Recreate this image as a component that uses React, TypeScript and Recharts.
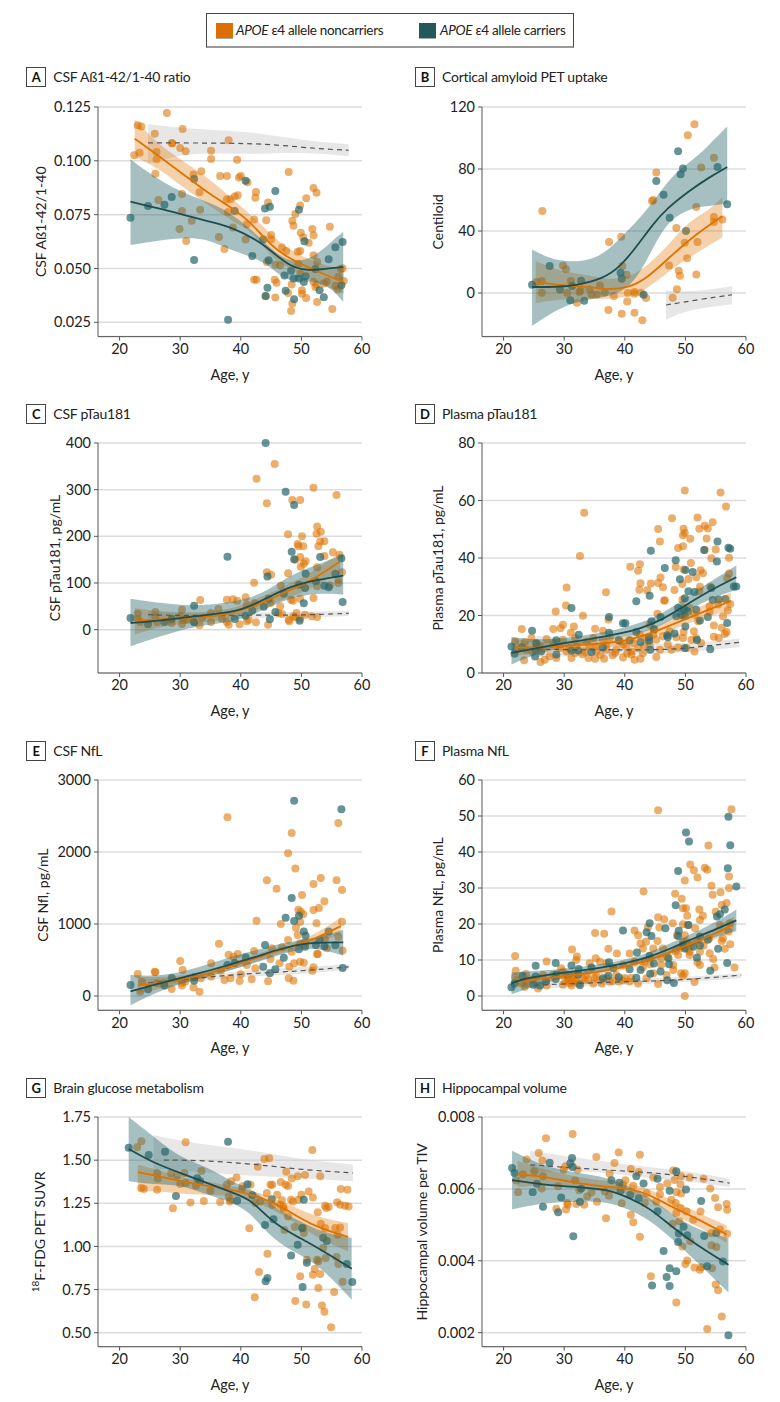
import React from 'react'
import { ComposedChart, Area, Line, Scatter, XAxis, YAxis, CartesianGrid, Label } from 'recharts'

const FONT = 'Lato, sans-serif'
const ORANGE = '#DE7300'
const TEAL = '#2A6A6D'
const TEAL_LINE = '#1F4E50'
const X_TICKS = [20, 30, 40, 50, 60]
const X_DOMAIN: [number, number] = [16.44, 60]

// A: CSF Ab ratio
const aOrangePts = [[27.8,.1222],[23,.1165],[23.6,.116],[25.8,.1126],[30.4,.1148],[38,.1095],[28.6,.1083],[28.7,.108],[30,.106],[30.9,.1044],[35.1,.1047],[22.4,.1026],[23.3,.1038],[26.1,.1041],[26.1,.1007],[35.1,.1008],[39.4,.1005],[47.9,.0948],[25.9,.094],[33.5,.0951],[32.2,.0937],[36.6,.093],[37.7,.093],[40,.093],[39.7,.0922],[41.1,.09],[42.5,.0855],[42.4,.0829],[33.2,.0854],[30.3,.0846],[26.4,.0818],[52,.0874],[52.5,.0852],[50.8,.0826],[39.5,.084],[39,.0834],[37.7,.0821],[38.3,.0821],[44.5,.0806],[49.8,.0792],[33.3,.0773],[30.3,.0767],[49,.0753],[37.9,.0762],[48.5,.0722],[44.2,.0724],[48.7,.0699],[42.2,.0727],[41,.0705],[31.9,.0722],[54.7,.0694],[29.9,.0683],[51.8,.0683],[49.9,.0666],[52,.0654],[45,.0656],[50.3,.0645],[36.4,.0646],[38.7,.069],[31,.0628],[40.8,.0634],[51.2,.062],[45,.0635],[37.3,.0591],[46.8,.0597],[47.5,.0581],[49.4,.0578],[49.8,.0581],[52,.0561],[44.3,.053],[45.7,.0518],[46.5,.0515],[52.6,.053],[49.5,.0522],[42.2,.0448],[42.6,.0448],[45.6,.0448],[45.9,.0434],[48.4,.0425],[47.8,.0386],[50.1,.0383],[45.7,.0365],[44.1,.0371],[50.8,.0363],[48.5,.0337],[48.3,.0303],[52.6,.0344],[55.1,.0312],[52,.0437],[52.5,.0426],[53.7,.043],[54.2,.044],[56,.0402],[55.6,.042],[56.1,.0461],[56.8,.0501],[56.5,.0498],[57,.0442],[50.1,.0399],[49.8,.0476],[52.3,.0414]]
const aTealPts = [[21.8,.0736],[24.7,.079],[27.4,.0796],[28.6,.0832],[32.3,.0916],[40.8,.0908],[45.7,.086],[44,.0779],[44.8,.0787],[39,.0767],[49.6,.0773],[50.5,.0626],[43.7,.0634],[56.8,.0623],[55.6,.0598],[54.5,.0543],[41.9,.0558],[44.6,.0538],[32.3,.0539],[52.3,.0498],[48.3,.049],[47.2,.0467],[48.7,.0454],[49.6,.0453],[50.7,.0464],[50.4,.0437],[56.6,.0422],[44.4,.0411],[47.4,.0396],[53,.0399],[44.1,.0372],[53.7,.0366],[48.8,.0357],[37.9,.0262]]
const aTealLine = [[21.8,.081],[24.7,.079],[30,.0755],[33.3,.0727],[38.3,.0697],[43.2,.0623],[44.9,.0584],[48.2,.0507],[50.9,.0491],[53.1,.0495],[56.9,.0507]]
const aTealBand = [[21.8,.0609,.1007],[25,.0623,.094],[30,.0643,.0855],[34.4,.0639,.081],[37.7,.0592,.077],[41.6,.0556,.0685],[44.3,.0522,.0608],[47.6,.0437,.053],[50.9,.0445,.0538],[53.1,.043,.0577],[55.3,.04,.0634],[56.9,.0344,.067]]
const aOrangeLine = [[22.5,.1103],[26.7,.1018],[31.1,.0925],[35.5,.0832],[38.8,.0778],[41.6,.0716],[44.9,.0608],[47.6,.0553],[51.5,.0499],[57,.0437]]
const aOrangeBand = [[22.5,.1018,.1193],[26.2,.0971,.108],[31.1,.0863,.0987],[35.5,.0778,.0902],[38.8,.0716,.0817],[42.1,.067,.0739],[44.9,.0553,.0662],[47.6,.0507,.0592],[51.5,.0448,.0538],[57,.0383,.0488]]
const aGrayLine = [[24.7,.1083],[39,.1083],[46,.1075],[52.6,.1056],[57.8,.1049]]
const aGrayBand = [[24.7,.0987,.117],[30,.103,.1152],[36,.1036,.1142],[43.2,.103,.113],[50,.1041,.1095],[57.8,.1021,.1077]]

// B: amyloid PET
const bOrangePts = [[26.4,52.9],[51.5,108.8],[50.4,101.7],[54.7,87.3],[52.6,80.9],[45.2,77.8],[44.5,59.4],[44.7,60],[51.8,55.5],[54.7,49],[54.7,45.8],[56.1,47.5],[48.5,41.9],[39.4,36.3],[37.4,32.9],[49.9,32.5],[52,32.9],[50.3,22.4],[47.3,17.8],[29.8,17.8],[30.3,15.3],[39.6,17.4],[48.9,14.4],[49.1,11.2],[51.8,12],[40.3,11.8],[31.1,7.7],[26.3,7.7],[25.4,7.1],[35.9,4.9],[48.6,2.4],[26.3,.2],[30.5,0],[32.5,.6],[32.7,1.7],[34.2,2.2],[34.5,-.9],[35.4,-.9],[36.7,.4],[38.2,-1.9],[40.5,0],[41.6,.6],[41.6,-.4],[42.7,.2],[43.5,-3.2],[47.9,-3],[40.4,-5.4],[32.1,-6.2],[37.3,-11],[39.5,-13.3],[41.6,-12.7],[42.9,-17.6]]
const bTealPts = [[24.7,5.4],[27.6,17.4],[29.3,2.2],[31.3,4.5],[32.8,8],[31,-4.7],[33.3,-4.9],[39.3,13.1],[39.5,9.2],[43.1,-1.1],[46.4,63.4],[45.2,72.3],[47.4,48.6],[48.8,91.4],[49.2,76.6],[49.6,80.4],[50.1,40],[55.3,81.3],[56.9,57.2]]
const bTealLine = [[24.7,3.9],[28.7,3.9],[32,4.9],[36.4,9.2],[39.2,16.8],[41.9,29.7],[44.7,44.7],[46.9,54.4],[50.7,66.2],[54,74.8],[56.9,81.3]]
const bTealBand = [[24.7,-21.3,28],[27.6,-13.5,22.2],[30.9,-7,20],[34.2,-4,21.1],[37,-2.3,26.5],[39.7,1,37.2],[42.2,10.3,47],[44.7,29.7,59],[46.9,44.7,71],[49.1,51.2,80],[51.8,55.5,87.7],[54,56.1,96],[56.9,57.6,107.5]]
const bOrangeLine = [[25.3,7.1],[29.8,4.9],[34.2,3.9],[37.5,2.2],[40.5,3.4],[43.6,9.2],[47.4,23.2],[51.8,38.3],[56.1,49.5]]
const bOrangeBand = [[25.3,-6.5,20.6],[29.8,-3.7,13.5],[34.2,-3.7,11.4],[37.5,-3.7,8.6],[40.5,-2.6,9.9],[43.6,2.2,16.8],[47.4,14.6,31.8],[50.7,23,46.9],[54,31,53.3],[56.1,36.1,61.9]]
const bGrayLine = [[46.8,-7.7],[52.4,-4.1],[57.7,-1.1]]
const bGrayBand = [[46.8,-17.2,1.7],[50,-11.5,.8],[54,-9,2.2],[57.7,-7.3,4.5]]

// C: CSF pTau181
const cOrangePts = [[45.6,355],[42.6,323.6],[52,304],[55.8,288.6],[44.3,270.7],[48.5,277.9],[49.8,277.9],[52.6,221],[52.5,205.7],[53.2,210],[47.8,204.3],[50.1,200],[53.8,189.3],[53.1,189],[52.8,178.6],[49.4,183.6],[50.3,178.6],[49.5,178.6],[55.2,165.7],[53.8,157.9],[49.8,155.7],[56.3,160.7],[50.7,146.4],[49,150],[50.4,141],[49.9,135],[52.6,133.6],[56.7,122.9],[47.8,120.7],[45,117.9],[44.3,122.9],[42.2,100.7],[46.6,94.3],[56.1,100],[56.1,107],[52.6,92.9],[54.7,95],[33.3,63.6],[37.7,64.3],[38.7,65],[39.4,62],[40.8,69.3],[42.3,57],[36.3,44.3],[48.3,64.3],[48.6,62],[49.8,66.4],[52,67.9],[30.3,42.9],[25.9,37.9],[23,34.3],[35.1,35.7],[35.1,16.4],[23,23.6],[25.9,26.4],[26.2,16.4],[23.4,16.4],[28.5,21.4],[28.6,14.3],[30,28.6],[30.5,21.4],[30.3,12.1],[31.1,21.4],[32.2,17.9],[33.2,9.3],[33.6,25],[36.9,23.6],[37.7,16.4],[38,10.7],[39.8,11.4],[41,17.9],[41.3,21.4],[42.5,15.7],[44.5,10.7],[46.2,35.7],[46.8,33.6],[47.9,21.4],[48,17.9],[48.7,28.6],[49.2,35.7],[49,26.4],[49.8,23.6],[50.6,32.1],[51.7,28.6],[52.6,27.1],[46.5,50],[44.9,57],[41,53.6]]
const cTealPts = [[44.1,400],[47.4,295.7],[48.8,267],[37.8,156.4],[48.4,167],[48.8,150.7],[53.1,155.7],[56.6,152.9],[44.4,114],[50.7,120],[55.6,120],[52.4,103.6],[49.6,96.4],[50.6,89.3],[53.8,94.3],[54.5,90.7],[47.1,77],[44.6,66.4],[32.3,51.4],[43.8,49.3],[50.4,56.4],[56.8,59.3],[41.9,40.7],[40.8,30],[45.7,37.9],[21.8,25],[24.7,11.4],[27.4,16.4],[28.6,23.6],[32.3,15.7],[39,22.9],[44.8,22.1],[49.7,19.3]]
const cTealLine = [[21.8,14.3],[26.7,19.3],[32.2,28.6],[37.7,35.7],[41,46.4],[44.3,67.9],[48.2,92.9],[52.6,107],[56.9,115.7]]
const cTealBand = [[21.8,-35.7,66.4],[26.7,-14.3,57.1],[32.2,7.1,50],[37.7,14.3,57.1],[41,26.4,66.4],[44.3,46.4,82],[48.2,67.9,117.9],[52.6,78.6,139],[56.9,75,160.7]]
const cOrangeLine = [[22.5,17.9],[27.8,23.6],[33.3,26.4],[37.7,32],[40.5,42.9],[44.3,62],[48.2,85.7],[51.5,103.6],[56.4,146.4]]
const cOrangeBand = [[22.5,-10.7,46.4],[27.8,10.7,35.7],[33.3,14.3,35.7],[37.7,21.4,42.9],[40.5,32,53.6],[44.3,50,75],[48.2,71,100],[51.5,86,121],[56.4,125,165]]
const cGrayLine = [[24.7,32],[30,30],[40,31],[45,31],[50,31],[57.8,35]]
const cGrayBand = [[24.7,24,40],[35,25,36],[45,25,37],[57.8,29,40]]

// D: plasma pTau181
const dOrangePts = [[49.9,63.5],[55.8,62.8],[56.7,57.9],[33.3,55.7],[47.8,53.8],[52,54.1],[53.2,51.2],[52.3,50.2],[53.7,50.3],[54.5,52.4],[45.5,50.1],[49.7,50.2],[49.9,48.7],[49.6,47.9],[50.8,46.7],[45.8,45.7],[53.5,46.8],[48.8,43.5],[49.6,44.1],[32.6,40.7],[53.2,42.8],[55,43],[57.2,40.1],[54.3,39.9],[40.9,37],[42.2,35.6],[42.5,37.8],[50.9,38.3],[48.4,36.9],[49.7,36],[52.5,35.7],[52.9,34.7],[50.5,32.7],[57.2,34.6],[56.9,33],[45.9,33.2],[45.5,31.3],[44.3,31.1],[42.6,31.2],[49.5,31],[51.8,33.3],[52.4,30],[54.1,30.1],[30.4,29.7],[46.3,29.8],[42.4,29],[43.7,28.8],[48.2,28.9],[36.9,28.1],[52.3,28.4],[46.5,25.2],[46.6,25.2],[49.5,25.5],[30.3,23.5],[28.6,21.4],[33.1,19.9],[45.4,20.6],[56.2,19.7],[57,21.7],[57.4,24],[49.6,22.6],[54.7,16.5],[49.6,19.7],[23,15.3],[28.2,15.3],[29.8,16.8],[31.6,16.2],[29.4,15.6],[35.1,15.4],[36.4,14.7],[37.3,18.6],[31.1,14],[56,15.7],[56.8,14.3],[56.5,13.6],[51.4,14.5],[49.7,14.3],[54.7,12.6],[55.5,12.2],[49.6,12.2],[51.8,12.2],[48.5,12.4],[46.3,12.8],[24.6,12.2],[27.1,11.8],[21.9,11],[23.5,10.8],[25.4,10.4],[28.2,10.4],[29.8,11.6],[31.8,12.2],[33.7,11],[34.8,12.2],[36.4,11.6],[37.5,12.2],[39.2,11],[41.4,10.4],[43.6,12.2],[45.2,11.6],[47.1,9.9],[51,11.6],[52.6,10.4],[22.1,8.1],[23.8,8.1],[26,9.3],[29.3,8.7],[30.4,7.5],[32,9.3],[33.4,7.5],[35.3,7.5],[37,8.1],[38.6,8.1],[39.7,9.9],[41.1,7.5],[42.2,8.7],[44.1,9.9],[45.8,8.1],[47.7,8.1],[48.8,8.9],[50.2,8.7],[51.5,7.5],[23.4,4.4],[26.1,3.8],[26.8,4.6],[27.6,5.8],[28.7,5.2],[31.2,5.2],[34,5.2],[35.1,5],[36.6,5],[38.4,7],[39.7,5.4],[41.6,4.6],[42.6,5],[41.1,6.4],[45.2,5.6],[35.3,9.3],[34.2,9.3],[42.5,13.3],[47.4,14.5],[44.1,16.8],[44.9,15.1],[44.7,13.3],[54,21.4],[55.4,23.8],[54,23.2],[50.7,22.6],[51.5,20.3],[52.1,18],[30.8,8.6],[33,6.5],[36,6.3],[38,6.2],[40.4,6.8],[43,6.9],[31.8,7],[24.8,7.2],[36.9,9.8],[40.2,9.2],[43.2,9.6]]
const dTealPts = [[44.3,42.5],[55.3,45.7],[57.1,43.6],[57.4,43.2],[53.1,42.8],[55.2,38.8],[48.4,39.2],[46.6,36.5],[50,35.8],[51.2,35.1],[49.1,32.6],[54.3,29.6],[50.5,28.4],[51.5,28.2],[58,30.1],[58.4,30.1],[44.1,26.9],[41.9,25],[49.9,26],[54.5,25.4],[55.5,25.6],[56.6,25.7],[31.2,22.6],[37.4,19.5],[45.9,19.5],[48.8,22.6],[48.5,19.7],[49.3,20.3],[49.9,22],[49.9,19.7],[50.4,21.4],[51.8,22],[50,16.2],[53.7,19.5],[56.9,17.4],[52.4,18.3],[39.7,17.3],[40.1,17.3],[44.4,18],[44.8,15.2],[24.7,14.7],[32.4,13.3],[37.4,14],[41.9,14.3],[47,13.1],[48.2,13.7],[47.1,12.4],[44,12.4],[40.8,11.4],[39,11.4],[42.6,10.8],[44,11.2],[51.9,11.5],[28.7,11.4],[25.4,10.3],[21.3,9.2],[23,9],[25.2,8.3],[26.2,7.5],[21.8,6.7],[25.2,5.7],[28.7,6.4],[31.2,7.8],[32.3,7.8],[34.5,7.3],[36.4,8.9],[44.2,8.1],[49.9,8.7],[54.1,8.3]]
const dTealLine = [[21.3,7],[25.4,8.6],[29.8,10.3],[34.2,11.8],[38.6,13.4],[43,15.7],[46.3,18.7],[49.6,23],[54,28.7],[58.4,33.3]]
const dTealBand = [[21.3,3,12.5],[25.4,6.6,11.5],[29.8,9,12],[34.2,10.5,13.4],[38.6,12,15],[43,14,17.6],[46.3,16.8,20.8],[49.6,20.8,25.5],[54,25.8,31.6],[58.4,29,37.4]]
const dOrangeLine = [[21.8,8.9],[26.5,8.7],[30,9.5],[35,10],[40,11],[44,13.5],[48,17],[52,20.5],[57.5,25]]
const dOrangeBand = [[21.8,6,11.8],[26.5,7,10.5],[30,8,11],[35,8.5,11.5],[40,9.5,12.6],[44,11.8,15],[48,15,19],[52,18.5,22.6],[57.5,22,28]]
const dGrayLine = [[25.4,8.3],[35,8],[42,8],[48,8.2],[52,9],[58.9,10.7]]
const dGrayBand = [[25.4,5.5,13],[35,6,10.5],[45,6.5,10],[52,7.5,10.5],[58.9,9,12]]

// E: CSF NfL
const eOrangePts = [[37.8,2481],[56.1,2403],[48.4,2264],[47.8,1981],[49,1769],[44.3,1606],[45.9,1491],[53.2,1639],[52,1556],[55.8,1606],[56.7,1472],[50.1,1403],[53.8,1315],[52.9,1222],[52,1194],[49.5,1199],[49.9,1171],[50.3,1134],[42.6,1046],[46.6,1000],[52.5,1009],[49.8,1028],[56.7,1032],[49.1,949],[49.4,847],[47.8,778],[56.1,824],[53.9,796],[36.4,727],[42.2,625],[48.4,616],[45.1,662],[46.8,676],[49.8,731],[50.6,745],[56.8,630],[54.2,662],[38,574],[38.8,546],[39.5,583],[35.1,454],[30,486],[30.4,361],[44.9,514],[46.4,454],[48.8,454],[49.8,477],[50.4,463],[52.6,583],[52.7,583],[41,431],[42.4,384],[36.7,352],[38.3,245],[39.8,208],[40,301],[37.3,222],[41.8,231],[44.5,204],[47.9,245],[48.7,213],[48,407],[51.8,352],[52,398],[23,306],[25.8,338],[25.9,329],[23.7,199],[23.4,60],[26.2,176],[28.6,97],[30.3,185],[30.3,144],[32.2,116],[33.2,60],[33.4,245],[35.1,269],[30.8,199],[27.3,176]]
const eTealPts = [[48.8,2713],[56.6,2593],[48.4,1361],[47.4,1088],[48.8,1042],[49.6,1116],[50.4,894],[50.7,838],[54.5,894],[44,708],[40.8,537],[39,458],[37.8,431],[43.7,407],[47.1,532],[44.8,315],[45.7,370],[56.8,389],[49.6,648],[50.6,685],[52.4,708],[53,778],[53.8,690],[55.6,704],[21.8,153],[24.7,93],[27.4,144],[28.6,250],[32.3,259],[32.3,213]]
const eTealLine = [[21.8,65],[27,185],[33,310],[38,430],[42,530],[46,640],[49.5,720],[53,745],[56.9,745]]
const eTealBand = [[21.8,-130,290],[27,90,270],[33,240,390],[38,350,540],[42,450,620],[46,560,720],[49.5,650,770],[53,660,820],[56.9,560,920]]
const eOrangeLine = [[23,145],[30,215],[35,320],[40,450],[44,570],[48,680],[52,780],[56.5,970]]
const eOrangeBand = [[23,30,265],[30,170,265],[35,275,370],[40,400,500],[44,520,620],[48,630,720],[52,720,840],[56.5,860,1090]]
const eGrayLine = [[24.7,180],[30,220],[40,310],[50,345],[57.8,405]]
const eGrayBand = [[24.7,130,230],[30,180,260],[40,270,350],[50,300,400],[57.8,370,440]]

// F: plasma NfL
const fOrangePts = [[45.5,51.6],[57.6,51.9],[53.8,41.8],[50.8,36.5],[53.2,35.6],[53.6,35.1],[51.4,34.9],[52,32.9],[49.9,32.1],[57.2,33.2],[54.3,30.6],[57.2,30],[43.1,29],[55.8,28.8],[54.5,28.1],[48.3,28.4],[49.4,27],[56.8,25.8],[56,25.3],[37.8,23.5],[49.6,24.4],[50.1,24.4],[52.3,24],[55,23.4],[52.9,22.3],[45.5,21.9],[50.3,22.3],[52.4,21.1],[46.5,21.3],[47.9,20.2],[49.6,19.9],[50.4,19.7],[51.6,18.8],[43.8,19.1],[45.7,19],[41.6,18.2],[35.1,17.5],[36.6,17.3],[42.2,16.9],[57.1,17.9],[57.3,20.2],[55.7,19.7],[48.6,16.9],[49.9,16.9],[56.2,16],[53.9,16],[43.5,15.1],[42.6,14.6],[45.4,15.3],[57.4,14.4],[56,15.3],[56.5,13.1],[37.3,13.1],[31.3,12.9],[21.9,11.1],[32.1,11],[38.7,11.8],[40.8,11.8],[43,13.2],[44.7,13.2],[46.3,13.2],[48.8,11.4],[50.7,12.3],[52.4,12.3],[54,11.9],[54.6,10.3],[52,9.4],[54.8,7.9],[58.1,7.9],[27.1,9.6],[22,7],[23.7,6.1],[29.5,7.7],[32,10],[35.2,10.5],[35.9,9.5],[34.2,9.1],[37,9.1],[39.7,8.6],[41.6,9.5],[43.3,9.5],[46,8.6],[48,7.2],[49.3,6.3],[49.9,6.3],[49.6,5.6],[45.5,3.3],[51.5,3.9],[49.9,0],[21.9,5.2],[23,3.5],[23.5,2.6],[25.7,2.1],[27.1,2.9],[28.2,5.8],[29.8,6.8],[29.8,3.1],[30.7,4.4],[31.2,2.9],[30.8,5.8],[31.8,4],[33.4,4.4],[33.7,5.8],[34.8,3.5],[36.2,3.5],[35.3,5.4],[37.5,4],[38.6,5.8],[39.7,4.4],[40.8,4],[42.2,3.5],[43.6,4.9],[44.7,6.3],[46.9,5.8],[48,8.6],[50.7,11.4],[52.4,8.6],[24.9,4.4],[26.5,5.8],[23.8,3.5],[30.2,4],[30.6,5],[31,3.6],[31.4,4.6],[31.6,5.6],[32,4.2],[32.4,3.4],[30.4,6],[33,5],[34,4.6],[35,5],[36,4.4],[37,5],[38,4.2],[39,4],[40,5],[41,5],[43,8],[44.2,8.8],[46,10.4],[47,11],[48.4,12.4],[49.2,13.4],[50.2,15],[51,14.2],[52,15.4],[53,14],[49.6,15],[50.4,13]]
const fTealPts = [[57.1,49.8],[50.1,45.4],[50.6,42.9],[57.4,41.9],[57,35.5],[48.8,34.7],[58.4,30.4],[48.4,25.2],[56.5,24],[55.2,22.1],[55.7,22.7],[44.1,20.2],[50.5,19.7],[46.7,18.8],[39.7,18.2],[48.9,18.1],[43.6,17.7],[48.8,16.7],[44.4,16.7],[52.4,16.5],[53.7,15.6],[49.6,14.2],[49.9,13.2],[51.3,13.7],[55.4,13.1],[52.4,14],[42,12.1],[51.9,10.6],[44.1,11.2],[47.2,10.5],[47.3,8.8],[44.8,9],[56.9,9.2],[28.6,9.2],[31.2,8.5],[37.4,9.4],[25.3,8.4],[32.4,7.5],[38.1,7.7],[40.8,7.4],[54.1,7],[23.1,5.6],[25.3,5.4],[28.7,6],[32.3,6],[34.5,7.9],[37.3,5.6],[36.4,4.9],[39,5.2],[42.6,7.2],[41.9,5.1],[44.2,6.2],[45.9,6.8],[47,4.4],[48.1,3.6],[21.3,2.4],[21.8,3.5],[24.9,3.1],[26,2.9],[27,4],[28.6,4.7],[32.6,3]]
const fTealLine = [[21.3,3.5],[23.2,4.9],[30,6.5],[35,7.5],[40,9],[44,10.8],[48,13.5],[52,16.5],[55,18.5],[58.4,21]]
const fTealBand = [[21.3,.5,6.5],[30,5.3,7.5],[35,6.5,8.5],[40,8,10],[44,9.5,12],[48,12,15],[52,14.8,18],[55,16.5,20.5],[58.4,18,24]]
const fOrangeLine = [[21.8,4],[30,5.5],[35,6.5],[40,8],[44,10],[48,12.5],[52,15.3],[55,17.3],[58,20]]
const fOrangeBand = [[21.8,2.8,5.5],[30,4.8,6.3],[35,5.7,7.3],[40,7.2,8.8],[44,9.1,10.9],[48,11.5,13.5],[52,14,16.5],[55,15.8,19],[58,18,22]]
const fGrayLine = [[25,3],[35,3.7],[45,4.2],[50,4.5],[59.2,5.8]]
const fGrayBand = [[25,2,4],[35,2.8,4.5],[45,3.5,5],[50,3.8,5.3],[59.2,5,6.3]]

// G: glucose metabolism
const gOrangePts = [[30.9,1.603],[23.6,1.609],[22.9,1.574],[51.8,1.559],[43.9,1.507],[44.7,1.511],[42.8,1.462],[47.5,1.433],[33.5,1.437],[30.7,1.426],[26.2,1.426],[28.5,1.422],[29.5,1.41],[53.1,1.406],[50.6,1.414],[49.4,1.406],[48.4,1.393],[39.3,1.399],[26.3,1.393],[46.6,1.373],[38.4,1.377],[44.9,1.358],[45.2,1.358],[47.4,1.358],[47.8,1.35],[37.7,1.358],[40.3,1.348],[41.6,1.358],[30,1.362],[30.9,1.368],[32.6,1.352],[23.6,1.339],[24,1.333],[26.2,1.329],[51.2,1.319],[56.5,1.333],[57.6,1.329],[35,1.323],[40.2,1.333],[50,1.3],[44.3,1.31],[46,1.3],[51.9,1.283],[38,1.29],[38.3,1.267],[36.6,1.257],[38.2,1.261],[31.7,1.254],[33.9,1.263],[43.2,1.261],[42.4,1.252],[46.8,1.267],[48.3,1.271],[48.6,1.261],[49.5,1.271],[55.9,1.256],[56.4,1.242],[57.2,1.236],[57.8,1.232],[53.9,1.236],[54.1,1.223],[54.5,1.229],[45.2,1.242],[46.5,1.242],[47,1.229],[47.1,1.217],[28.8,1.221],[52.7,1.198],[47.8,1.174],[53.9,1.107],[53.2,1.132],[55.6,1.107],[56.4,1.11],[48.9,1.113],[56,1.068],[50.4,1.078],[50.3,1.107],[41.4,1.105],[47.2,1.095],[53.6,.991],[44.4,.958],[55.8,.939],[54,.933],[52.6,.923],[50.9,.923],[52.8,.914],[56.1,.898],[43,.852],[52.2,.869],[51.9,.836],[53.1,.84],[49.8,.827],[56.8,.796],[52.8,.759],[55.4,.736],[42.3,.705],[49,.684],[50.8,.664],[53.4,.658],[53.8,.622],[54.9,.531]]
const gTealPts = [[21.5,1.572],[24.8,1.53],[27.5,1.549],[37.9,1.607],[29.3,1.292],[32.8,1.395],[33.3,1.377],[39.4,1.265],[41.1,1.36],[41.9,1.296],[45.1,1.273],[50.4,1.271],[44,1.124],[45.4,1.157],[50.1,1.107],[53.6,1.051],[54.2,1.031],[49.4,1.01],[48.3,.948],[50.9,.906],[57.5,.898],[44.4,.817],[44.1,.798],[50.2,.765],[58.4,.794]]
const gTealLine = [[21.5,1.565],[25.6,1.484],[30,1.426],[34.4,1.368],[38.8,1.31],[41.6,1.271],[44.3,1.174],[47.1,1.097],[49.8,1.049],[53.7,.971],[58.3,.871]]
const gTealBand = [[21.5,1.378,1.75],[25.6,1.358,1.638],[30,1.358,1.513],[34.4,1.3,1.464],[38.8,1.252,1.368],[41.6,1.194,1.339],[44.3,1.078,1.261],[47.1,1,1.194],[49.8,.952,1.145],[53.7,.865,1.078],[58.3,.691,1.049]]
const gOrangeLine = [[23,1.431],[26.7,1.406],[31.1,1.368],[35.5,1.348],[39.9,1.319],[44.3,1.271],[47.6,1.213],[52,1.116],[57.7,1.055]]
const gOrangeBand = [[23,1.319,1.474],[26.7,1.32,1.44],[31.1,1.3,1.39],[35.5,1.3,1.37],[39.9,1.29,1.34],[44.3,1.23,1.3],[47.6,1.17,1.25],[52,1.06,1.174],[57.7,.97,1.135]]
const gGrayLine = [[27.3,1.5],[33.3,1.5],[43.2,1.474],[49.8,1.445],[58.5,1.426]]
const gGrayBand = [[25.6,1.45,1.645],[33.3,1.43,1.59],[41.6,1.41,1.561],[48.2,1.4,1.513],[58.5,1.377,1.474]]

// H: hippocampal volume
const hOrangePts = [[31.4,.00753],[27,.00741],[39,.00701],[25.8,.007],[42.5,.00695],[35.3,.00689],[23.8,.00682],[26.4,.00679],[38.3,.00672],[30.2,.00663],[41,.00655],[25.1,.00649],[29.9,.00653],[32.2,.00653],[23.2,.00641],[42.3,.00647],[48,.00651],[37.5,.00642],[44.7,.00632],[49.3,.00635],[50.7,.00632],[53,.00628],[26.5,.00635],[22.1,.00623],[31.8,.00623],[40.1,.00624],[48.2,.00625],[47,.00615],[49.2,.00612],[26.3,.00601],[29,.00607],[39.7,.00612],[41.4,.00609],[45.8,.00605],[54.1,.00601],[22.4,.00591],[32.5,.00596],[34.5,.0059],[36.7,.00593],[43.6,.00588],[48.5,.00591],[49.3,.00587],[54.9,.00575],[33.8,.00579],[37.4,.00581],[45.8,.00585],[47.7,.0057],[30.5,.00561],[32,.00558],[33.3,.00556],[35.4,.00564],[39.5,.0056],[43.3,.00561],[45.2,.00564],[48.4,.00561],[56.8,.00558],[30.6,.00556],[55.4,.00549],[49.2,.00547],[56.9,.00542],[28.7,.00545],[30.3,.00543],[48.5,.00533],[50.2,.00537],[52.5,.00537],[41,.00528],[51.3,.00514],[36.9,.00518],[41.4,.00507],[47.9,.00503],[49,.0051],[55.7,.00487],[54.3,.00477],[56.9,.00475],[42.5,.00467],[50.8,.00454],[54.3,.00443],[55.1,.00438],[49.5,.0044],[50.3,.00401],[50,.00391],[51.5,.00381],[52.4,.00375],[52.6,.00382],[54.4,.00379],[44.3,.00357],[55,.00334],[55.4,.00318],[48.5,.00284],[56,.00245],[53.6,.0021]]
const hTealPts = [[21.4,.00658],[21.8,.00644],[24.8,.00591],[25.5,.00614],[26.5,.0055],[27.6,.00673],[29.5,.00576],[29,.00535],[31,.00671],[31.3,.00686],[31.4,.00661],[31.5,.00468],[32.8,.00601],[32.6,.00564],[37.8,.00624],[39.1,.00617],[39.3,.00595],[41.9,.00635],[40.9,.00583],[42.3,.00574],[43.1,.00615],[45.4,.00628],[45.4,.00538],[47.4,.00595],[48.5,.00649],[50.1,.00598],[52.6,.00566],[49.7,.00495],[48.9,.00476],[50.3,.00471],[48.8,.00452],[53.1,.00469],[55.1,.00477],[46.4,.00427],[56.2,.00398],[53.6,.00385],[47.4,.00379],[48.5,.00371],[46.9,.00355],[47.4,.0033],[44.5,.00331],[57.1,.00193]]
const hTealLine = [[21.4,.00624],[26.5,.00612],[32,.00605],[37,.006],[40.8,.00575],[44.1,.00547],[48,.00491],[51.8,.00445],[57.1,.00389]]
const hTealBand = [[21.4,.00543,.00706],[26.5,.00561,.00663],[32,.00565,.00644],[37,.00565,.00633],[40.8,.00542,.00607],[44.1,.00514,.00575],[48,.00459,.00528],[51.8,.00398,.00487],[57.1,.00312,.00463]]
const hOrangeLine = [[22.3,.00641],[26.5,.00635],[32,.00616],[37,.00605],[40.8,.00602],[44.1,.00584],[48,.00547],[51.8,.00519],[56.8,.00473]]
const hOrangeBand = [[22.3,.00605,.00678],[26.5,.00612,.00655],[32,.006,.00632],[37,.00592,.00622],[40.8,.00588,.00615],[44.1,.00569,.006],[48,.00527,.00565],[51.8,.00498,.00537],[56.8,.0045,.00498]]
const hGrayLine = [[24.4,.00667],[34.2,.00655],[40,.0065],[48.5,.0064],[57.3,.00616]]
const hGrayBand = [[24.4,.00645,.00706],[34.2,.00653,.00681],[45.2,.00626,.00658],[50.7,.00621,.00649],[57.3,.00605,.00628]]

const toPts = (rows: number[][]) => rows.map(([age, v]) => ({ age, v }))
const toBand = (rows: number[][]) => rows.map(([age, lo, hi]) => ({ age, band: [lo, hi] }))

const dot = (fill: string, opacity: number) => (p: any) => (
  <circle cx={p.cx} cy={p.cy} r={4} fill={fill} fillOpacity={opacity} />
)
const orangeDot = dot(ORANGE, 0.58)
const tealDot = dot(TEAL, 0.72)

function Panel(props: any) {
  const { letter, title, left, top, boxLeft, plotH, yLabel, labelX, domain, ticks, fmt, oPts, tPts, oLine, oBand, tLine, tBand, gLine, gBand } = props
  const yAxisW = 70
  const mid = 10 + plotH / 2
  return (
    <>
      <div style={{ position: 'absolute', left: boxLeft, top: top - 39.4, width: 18, height: 18, border: '1px solid #444', textAlign: 'center', lineHeight: '18px', fontWeight: 700, fontSize: 13, fontFamily: FONT, color: '#111' }}>{letter}</div>
      <div style={{ position: 'absolute', left: boxLeft + 27, top: top - 39.4, lineHeight: '20px', fontSize: 14, letterSpacing: -0.25, fontFamily: FONT, color: '#222', whiteSpace: 'nowrap' }}>{title}</div>
      <div style={{ position: 'absolute', left: left - yAxisW, top: top - 10 }}>
        <ComposedChart width={264 + yAxisW + 10} height={plotH + 10 + 52} margin={{ top: 10, right: 10, left: 0, bottom: 0 }} style={{ fontFamily: FONT }}>
          <CartesianGrid vertical={false} stroke="#dcdcdc" strokeWidth={1.5} />
          <XAxis type="number" dataKey="age" domain={X_DOMAIN} ticks={X_TICKS} height={52} tickSize={4} tickMargin={3} interval={0} stroke="#555" tick={{ fontSize: 14.5, fill: '#222' }}>
            <Label value="Age, y" position="insideBottom" offset={9} style={{ fontSize: 14.5, fill: '#222' }} />
          </XAxis>
          <YAxis type="number" domain={domain} ticks={ticks} width={yAxisW} tickSize={4} tickMargin={3} interval={0} stroke="#555" tickFormatter={fmt} tick={{ fontSize: 14.5, fill: '#222' }}>
            <Label content={() => (
              <text x={labelX - (left - yAxisW)} y={mid} transform={`rotate(-90 ${labelX - (left - yAxisW)} ${mid})`} textAnchor="middle" dominantBaseline="central" fontSize={14} fill="#222">{yLabel}</text>
            )} />
          </YAxis>
          <Area data={toBand(gBand)} dataKey="band" type="basis" stroke="none" fill="#cfcfcf" fillOpacity={0.5} isAnimationActive={false} dot={false} activeDot={false} zIndex={10} />
          <Scatter data={toPts(oPts)} dataKey="v" shape={orangeDot} isAnimationActive={false} zIndex={20} />
          <Scatter data={toPts(tPts)} dataKey="v" shape={tealDot} isAnimationActive={false} zIndex={21} />
          <Area data={toBand(oBand)} dataKey="band" type="basis" stroke="none" fill={ORANGE} fillOpacity={0.33} isAnimationActive={false} dot={false} activeDot={false} zIndex={30} />
          <Area data={toBand(tBand)} dataKey="band" type="basis" stroke="none" fill={TEAL} fillOpacity={0.42} isAnimationActive={false} dot={false} activeDot={false} zIndex={31} />
          <Line data={toPts(gLine)} dataKey="v" type="basis" stroke="#555" strokeWidth={1.2} strokeDasharray="5 4" dot={false} activeDot={false} isAnimationActive={false} zIndex={40} />
          <Line data={toPts(oLine)} dataKey="v" type="basis" stroke={ORANGE} strokeWidth={1.8} dot={false} activeDot={false} isAnimationActive={false} zIndex={41} />
          <Line data={toPts(tLine)} dataKey="v" type="basis" stroke={TEAL_LINE} strokeWidth={1.8} dot={false} activeDot={false} isAnimationActive={false} zIndex={42} />
        </ComposedChart>
      </div>
    </>
  )
}

const L = 97.7
const R = 482.3
const BOX_L = 26.3
const BOX_R = 415

export default function App() {
  return (
    <div style={{ position: 'absolute', left: 0, top: 0, width: 780, height: 1402, background: '#fff', overflow: 'hidden' }}>
      <div style={{ position: 'absolute', left: 206, top: 13, width: 366, height: 32, border: '1px solid #444', borderBottom: '2px solid #999', fontFamily: FONT, fontSize: 13.5, letterSpacing: -0.3, color: '#222' }}>
        <div style={{ position: 'absolute', left: 9, top: 9, width: 17, height: 15, background: '#DD6F00', borderBottom: '1px solid #aaa' }} />
        <div style={{ position: 'absolute', left: 29, top: 7, lineHeight: '18px', whiteSpace: 'nowrap' }}><i>APOE</i> ε4 allele noncarriers</div>
        <div style={{ position: 'absolute', left: 212, top: 9, width: 17, height: 15, background: '#24595B', borderBottom: '1px solid #aaa' }} />
        <div style={{ position: 'absolute', left: 233, top: 7, lineHeight: '18px', whiteSpace: 'nowrap' }}><i>APOE</i> ε4 allele carriers</div>
      </div>
      <Panel letter="A" title="CSF Aß1-42/1-40 ratio" left={L} boxLeft={BOX_L} top={106.7} plotH={229.6} yLabel="CSF Aß1-42/1-40" labelX={40} domain={[0.01836, 0.125]} ticks={[0.025, 0.05, 0.075, 0.1, 0.125]} fmt={(v: number) => v.toFixed(3)} oPts={aOrangePts} tPts={aTealPts} oLine={aOrangeLine} oBand={aOrangeBand} tLine={aTealLine} tBand={aTealBand} gLine={aGrayLine} gBand={aGrayBand} />
      <Panel letter="B" title="Cortical amyloid PET uptake" left={R} boxLeft={BOX_R} top={106.7} plotH={229.6} yLabel="Centiloid" labelX={438} domain={[-28.1, 120]} ticks={[0, 40, 80, 120]} oPts={bOrangePts} tPts={bTealPts} oLine={bOrangeLine} oBand={bOrangeBand} tLine={bTealLine} tBand={bTealBand} gLine={bGrayLine} gBand={bGrayBand} />
      <Panel letter="C" title="CSF pTau181" left={L} boxLeft={BOX_L} top={443.3} plotH={230} yLabel="CSF pTau181, pg/mL" labelX={54} domain={[-92.9, 400]} ticks={[0, 100, 200, 300, 400]} oPts={cOrangePts} tPts={cTealPts} oLine={cOrangeLine} oBand={cOrangeBand} tLine={cTealLine} tBand={cTealBand} gLine={cGrayLine} gBand={cGrayBand} />
      <Panel letter="D" title="Plasma pTau181" left={R} boxLeft={BOX_R} top={443.3} plotH={230} yLabel="Plasma pTau181, pg/mL" labelX={438} domain={[0, 80]} ticks={[0, 20, 40, 60, 80]} oPts={dOrangePts} tPts={dTealPts} oLine={dOrangeLine} oBand={dOrangeBand} tLine={dTealLine} tBand={dTealBand} gLine={dGrayLine} gBand={dGrayBand} />
      <Panel letter="E" title="CSF NfL" left={L} boxLeft={BOX_L} top={780} plotH={230.3} yLabel="CSF Nfl, pg/mL" labelX={42} domain={[-199, 3000]} ticks={[0, 1000, 2000, 3000]} oPts={eOrangePts} tPts={eTealPts} oLine={eOrangeLine} oBand={eOrangeBand} tLine={eTealLine} tBand={eTealBand} gLine={eGrayLine} gBand={eGrayBand} />
      <Panel letter="F" title="Plasma NfL" left={R} boxLeft={BOX_R} top={780} plotH={230.3} yLabel="Plasma NfL, pg/mL" labelX={438} domain={[-3.97, 60]} ticks={[0, 10, 20, 30, 40, 50, 60]} oPts={fOrangePts} tPts={fTealPts} oLine={fOrangeLine} oBand={fOrangeBand} tLine={fTealLine} tBand={fTealBand} gLine={fGrayLine} gBand={fGrayBand} />
      <Panel letter="G" title="Brain glucose metabolism" left={L} boxLeft={BOX_L} top={1117.3} plotH={229.7} yLabel={<><tspan dy={-4} fontSize={10}>18</tspan><tspan dy={4}>F-FDG PET SUVR</tspan></>} labelX={39} domain={[0.419, 1.75]} ticks={[0.5, 0.75, 1, 1.25, 1.5, 1.75]} fmt={(v: number) => v.toFixed(2)} oPts={gOrangePts} tPts={gTealPts} oLine={gOrangeLine} oBand={gOrangeBand} tLine={gTealLine} tBand={gTealBand} gLine={gGrayLine} gBand={gGrayBand} />
      <Panel letter="H" title="Hippocampal volume" left={R} boxLeft={BOX_R} top={1117.3} plotH={229.7} yLabel="Hippocampal volume per TIV" labelX={422} domain={[0.00161, 0.008]} ticks={[0.002, 0.004, 0.006, 0.008]} fmt={(v: number) => v.toFixed(3)} oPts={hOrangePts} tPts={hTealPts} oLine={hOrangeLine} oBand={hOrangeBand} tLine={hTealLine} tBand={hTealBand} gLine={hGrayLine} gBand={hGrayBand} />
    </div>
  )
}
